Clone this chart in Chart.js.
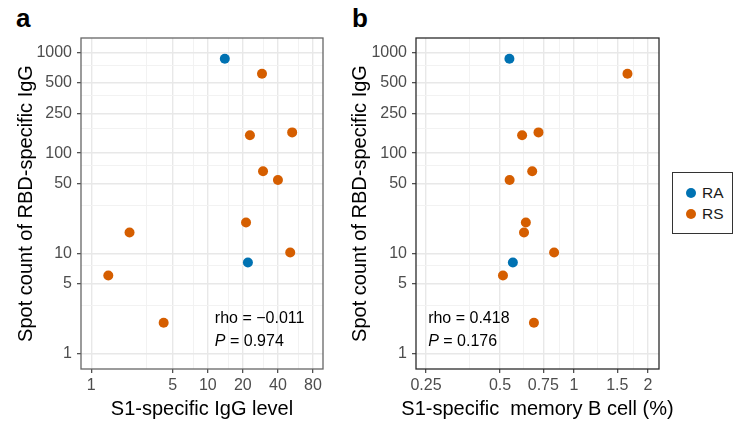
<!DOCTYPE html>
<html>
<head>
<meta charset="utf-8">
<script src="https://cdn.jsdelivr.net/npm/chart.js@4.4.1/dist/chart.umd.min.js"></script>
<style>
  body { margin: 0; background: #fff; font-family: "Liberation Sans", Arial, sans-serif; }
  #wrap { position: relative; width: 739px; height: 430px; overflow: hidden; }
  canvas { position: absolute; top: 0; }
  .tag { position: absolute; top: 5px; font-size: 26px; line-height: 26px; font-weight: bold; color: #000; }
  #legend { position: absolute; left: 672px; top: 172px; width: 61px; height: 62px; border: 1px solid #333; box-sizing: border-box; background: #fff; }
  .item { position: absolute; left: 0; font-size: 15.5px; line-height: 16px; color: #1a1a1a; }
  .dot { position: absolute; width: 10px; height: 10px; border-radius: 50%; }
</style>
</head>
<body>
<div id="wrap">
  <div class="tag" style="left:16px">a</div>
  <div class="tag" style="left:352px">b</div>
  <canvas id="panelA" width="340" height="430" style="left:0"></canvas>
  <canvas id="panelB" width="345" height="430" style="left:340px"></canvas>
  <div id="legend"></div>
</div>
<script>
// data (same samples in both panels)
const groups = ["RA", "RS"];
const groupColors = ["#0072B2", "#D55E00"];

const raSpot = [873, 8.1];
const raIgG = [14.0, 22.1];
const raMemB = [0.546, 0.564];

const rsSpot = [620, 151, 161, 66, 54, 20.3, 16.1, 10.2, 6.0, 2.03];
const rsIgG = [29.2, 23.0, 53, 29.8, 40, 21.3, 2.13, 51, 1.40, 4.18];
const rsMemB = [1.65, 0.615, 0.717, 0.676, 0.547, 0.637, 0.626, 0.830, 0.514, 0.687];

const spotTicks = [1, 5, 10, 50, 100, 250, 500, 1000];
const igGTicks = [1, 5, 10, 20, 40, 80];
const memBTicks = [0.25, 0.5, 0.75, 1, 1.5, 2];

const statsA = ["rho = \u22120.011", "0.974"];
const statsB = ["rho = 0.418", "0.176"];

const FONT = "'Liberation Sans', Arial, sans-serif";

// ggplot style: minor lines half way between majors
function withMinor(majors) {
  let out = [];
  for (let i = 0; i < majors.length; i++) {
    out.push(majors[i]);
    if (i < majors.length - 1) out.push((majors[i] + majors[i + 1]) / 2);
  }
  return out;
}

function pts(xs, ys) {
  return xs.map((x, i) => ({ x: x, y: ys[i] }));
}

const frame = {
  id: "frame",
  afterDraw(chart, args, opts) {
    const ctx = chart.ctx;
    const a = chart.chartArea;
    ctx.save();
    ctx.strokeStyle = opts.color;
    ctx.lineWidth = 1.3;
    ctx.strokeRect(a.left, a.top, a.right - a.left, a.bottom - a.top);

    // x title, drawn here so it is not squeezed to the axis width
    ctx.fillStyle = "#000";
    ctx.textAlign = "center";
    ctx.textBaseline = "middle";
    ctx.font = "20px " + FONT;
    ctx.fillText(opts.xTitle, (a.left + a.right) / 2, 409);

    // correlation text
    const x = chart.scales.x.getPixelForValue(opts.textX);
    const y = chart.scales.y.getPixelForValue(opts.textY);
    ctx.textAlign = "left";
    ctx.font = "16px " + FONT;
    ctx.fillText(opts.lines[0], x, y);
    ctx.font = "italic 16px " + FONT;
    ctx.fillText("P", x, y + 23);
    const w = ctx.measureText("P").width;
    ctx.font = "16px " + FONT;
    ctx.fillText(" = " + opts.lines[1], x + w, y + 23);
    ctx.restore();
  }
};

function axis(majors, min, max, title, titlePad, size, horizontal) {
  const all = withMinor(majors);
  const isMajor = (v) => majors.indexOf(v) !== -1;
  return {
    type: "logarithmic",
    min: min,
    max: max,
    afterBuildTicks: (s) => { s.ticks = all.map((v) => ({ value: v })); },
    afterFit: (s) => { if (horizontal) s.height = size; else s.width = size; },
    ticks: {
      autoSkip: false,
      maxRotation: 0,
      color: "#4d4d4d",
      font: { size: 16 },
      padding: horizontal ? 3 : 5,
      callback: (v) => (isMajor(v) ? String(v) : "")
    },
    grid: {
      color: (c) => (c.tick && isMajor(c.tick.value) ? "#e8e8e8" : "#f2f2f2"),
      lineWidth: (c) => (c.tick && isMajor(c.tick.value) ? 1.4 : 1),
      tickColor: (c) => (c.tick && isMajor(c.tick.value) ? "#333" : "rgba(0,0,0,0)"),
      tickLength: 4,
      tickWidth: 1.1
    },
    border: { display: false },
    title: {
      display: !horizontal,
      text: title,
      color: "#000",
      font: { size: 20 },
      padding: { top: titlePad, bottom: 0 }
    }
  };
}

function makePanel(id, raX, rsX, xTicks, xMin, xMax, xTitle, yAxisW, yTitlePad, rightPad, frameColor, textX, lines) {
  return new Chart(document.getElementById(id), {
    type: "scatter",
    data: {
      datasets: [
        { label: groups[0], data: pts(raX, raSpot), backgroundColor: groupColors[0] },
        { label: groups[1], data: pts(rsX, rsSpot), backgroundColor: groupColors[1] }
      ]
    },
    options: {
      responsive: false,
      animation: false,
      layout: { padding: { top: 38, right: rightPad, left: 0, bottom: 0 } },
      elements: { point: { radius: 5, borderWidth: 0, hoverRadius: 5 } },
      plugins: {
        legend: { display: false },
        tooltip: { enabled: false },
        frame: { color: frameColor, textX: textX, textY: 2.22, lines: lines, xTitle: xTitle }
      },
      scales: {
        x: axis(xTicks, xMin, xMax, xTitle, 0, 61, true),
        y: axis(spotTicks, 0.743, 1409, "Spot count of RBD-specific IgG", yTitlePad, yAxisW, false)
      }
    },
    plugins: [frame]
  });
}

Chart.defaults.font.family = FONT;

makePanel("panelA", raIgG, rsIgG, igGTicks, 0.816, 97.5, "S1-specific IgG level",
  81, 14, 17, "#666", 11.5, statsA);
makePanel("panelB", raMemB, rsMemB, memBTicks, 0.2276, 2.217, "S1-specific  memory B cell (%)",
  76, 8, 26, "#2b2b2b", 0.255, statsB);

// legend box
const legend = document.getElementById("legend");
groups.forEach((g, i) => {
  const top = 12 + i * 21;
  legend.innerHTML +=
    '<div class="dot" style="left:13px;top:' + (top + 3) + 'px;background:' + groupColors[i] + '"></div>' +
    '<div class="item" style="left:29px;top:' + top + 'px">' + g + '</div>';
});
</script>
</body>
</html>
